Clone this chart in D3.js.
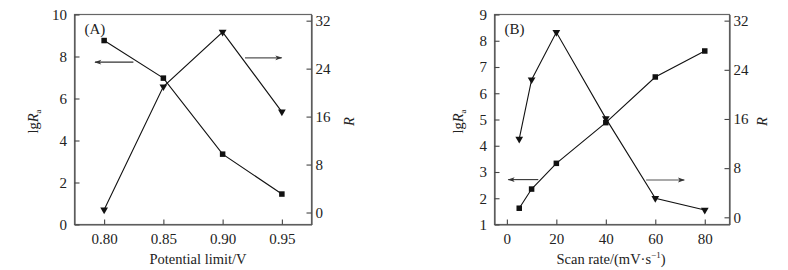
<!DOCTYPE html>
<html>
<head>
<meta charset="utf-8">
<script src="https://cdn.jsdelivr.net/npm/d3@7/dist/d3.min.js"></script>
<style>
  html, body { margin: 0; padding: 0; background: #fff; }
  svg text { font-family: "Liberation Serif", "Times New Roman", "DejaVu Serif", serif; fill: #222; }
</style>
</head>
<body>
<svg id="chart" width="788" height="270"></svg>
<script>
// ---- Panel A data ----
const potentialLimit = [0.80, 0.85, 0.90, 0.95];
const lgRaA = [8.76, 6.97, 3.35, 1.45];
const RA = [0.45, 21.0, 30.1, 16.8];
const xTicksA = [0.80, 0.85, 0.90, 0.95];
const yLeftTicksA = [0, 2, 4, 6, 8, 10];
const yRightTicksA = [0, 8, 16, 24, 32];
// arrows in data units: [x1, x2, y]
const arrowLeftA = [0.8247, 0.7923, 7.73];
const arrowRightA = [0.9189, 0.9498, 25.8];

// ---- Panel B data ----
const scanRate = [5, 10, 20, 40, 60, 80];
const lgRaB = [1.62, 2.35, 3.33, 4.88, 6.62, 7.61];
const RB = [12.75, 22.4, 30.1, 16.1, 3.1, 1.2];
const xTicksB = [0, 20, 40, 60, 80];
const yLeftTicksB = [1, 2, 3, 4, 5, 6, 7, 8, 9];
const yRightTicksB = [0, 8, 16, 24, 32];
const arrowLeftB = [12.7, 0.6, 2.71];
const arrowRightB = [56.3, 71.7, 6.07];

const svg = d3.select("#chart");
svg.append("rect").attr("width", 788).attr("height", 270).attr("fill", "#fff");

const defs = svg.append("defs");
defs.append("marker")
  .attr("id", "ah").attr("viewBox", "0 0 10 10")
  .attr("refX", 9).attr("refY", 5)
  .attr("markerWidth", 9).attr("markerHeight", 7)
  .attr("markerUnits", "userSpaceOnUse")
  .attr("orient", "auto")
  .append("path").attr("d", "M0,1.5 L10,5 L0,8.5 L2.5,5 Z").attr("fill", "#333");

const FS = 14.5;
const TFS = 15;

function panel(cfg) {
  const g = svg.append("g");
  const x = d3.scaleLinear().domain(cfg.xDomain).range([cfg.x0, cfg.x1]);
  const yL = d3.scaleLinear().domain(cfg.yLDomain).range([cfg.y1, cfg.y0]);
  const yR = d3.scaleLinear().domain(cfg.yRDomain).range([cfg.y1, cfg.y0]);

  // frame
  g.append("rect")
    .attr("x", cfg.x0).attr("y", cfg.y0)
    .attr("width", cfg.x1 - cfg.x0).attr("height", cfg.y1 - cfg.y0)
    .attr("fill", "none").attr("stroke", "#666").attr("stroke-width", 1.2);

  const axL = g.append("g").attr("transform", `translate(${cfg.x0},0)`)
    .call(d3.axisLeft(yL).tickValues(cfg.yLTicks).tickFormat(d3.format("d"))
      .tickSizeInner(-5).tickSizeOuter(0).tickPadding(7.5));
  const axR = g.append("g").attr("transform", `translate(${cfg.x1},0)`)
    .call(d3.axisRight(yR).tickValues(cfg.yRTicks).tickFormat(d3.format("d"))
      .tickSizeInner(-5).tickSizeOuter(0).tickPadding(4));
  const axB = g.append("g").attr("transform", `translate(0,${cfg.y1})`)
    .call(d3.axisBottom(x).tickValues(cfg.xTicks).tickFormat(cfg.xFormat)
      .tickSizeInner(-5).tickSizeOuter(0).tickPadding(8.5));
  [axL, axR, axB].forEach(a => {
    a.attr("font-family", null);
    a.select(".domain").attr("stroke", "#555").attr("stroke-width", 1.2);
    a.selectAll(".tick line").attr("stroke", "#444").attr("stroke-width", 1.1);
    a.selectAll(".tick text").attr("font-size", TFS).attr("fill", "#222")
      .attr("font-family", '"Liberation Serif", "Times New Roman", serif');
  });

  // lines
  const lineL = d3.line().x((d, i) => x(cfg.xs[i])).y(d => yL(d));
  const lineR = d3.line().x((d, i) => x(cfg.xs[i])).y(d => yR(d));
  g.append("path").attr("d", lineL(cfg.left)).attr("fill", "none")
    .attr("stroke", "#111").attr("stroke-width", 1.1);
  g.append("path").attr("d", lineR(cfg.right)).attr("fill", "none")
    .attr("stroke", "#111").attr("stroke-width", 1.1);

  // markers
  const sq = 5.5;
  g.selectAll(".sq").data(cfg.left).join("rect")
    .attr("x", (d, i) => x(cfg.xs[i]) - sq / 2)
    .attr("y", d => yL(d) - sq / 2)
    .attr("width", sq).attr("height", sq).attr("fill", "#111");
  const tri = d3.symbol().type(d3.symbolTriangle).size(26);
  g.selectAll(".tri").data(cfg.right).join("path")
    .attr("d", tri)
    .attr("transform", (d, i) => `translate(${x(cfg.xs[i])},${yR(d)}) rotate(180)`)
    .attr("fill", "#111");

  // arrows
  g.append("line")
    .attr("x1", x(cfg.arrowL[0])).attr("x2", x(cfg.arrowL[1]))
    .attr("y1", yL(cfg.arrowL[2])).attr("y2", yL(cfg.arrowL[2]))
    .attr("stroke", "#333").attr("stroke-width", 1.1).attr("marker-end", "url(#ah)");
  g.append("line")
    .attr("x1", x(cfg.arrowR[0])).attr("x2", x(cfg.arrowR[1]))
    .attr("y1", yR(cfg.arrowR[2])).attr("y2", yR(cfg.arrowR[2]))
    .attr("stroke", "#555").attr("stroke-width", 1.1).attr("marker-end", "url(#ah)");

  // panel letter
  g.append("text").attr("x", cfg.x0 + 10).attr("y", cfg.y0 + 19.5)
    .attr("font-size", TFS).text(cfg.letter);

  // left y label lgRa
  const yl = g.append("text")
    .attr("transform", `translate(${cfg.ylX},${(cfg.y0 + cfg.y1) / 2 + 2}) rotate(-90)`)
    .attr("text-anchor", "middle").attr("font-size", FS);
  yl.append("tspan").text("lg");
  yl.append("tspan").attr("font-style", "italic").text("R");
  yl.append("tspan").attr("font-size", 9).attr("dy", 2.5).text("a");

  // right y label R
  g.append("text")
    .attr("transform", `translate(${cfg.yrX},${(cfg.y0 + cfg.y1) / 2 + 2}) rotate(-90)`)
    .attr("text-anchor", "middle").attr("font-size", FS).attr("font-style", "italic").text("R");

  // x label
  const xl = g.append("text").attr("x", cfg.xlX).attr("y", 263.5)
    .attr("text-anchor", "middle").attr("font-size", FS);
  cfg.xLabel(xl);
}

panel({
  x0: 74.5, x1: 311.5, y0: 14.5, y1: 224.5,
  xDomain: [0.775, 0.975], yLDomain: [0, 10], yRDomain: [-2.0, 33.03],
  xTicks: xTicksA, yLTicks: yLeftTicksA, yRTicks: yRightTicksA,
  xFormat: d3.format(".2f"),
  xs: potentialLimit, left: lgRaA, right: RA,
  arrowL: arrowLeftA, arrowR: arrowRightA,
  letter: "(A)", ylX: 38, yrX: 354, xlX: 198,
  xLabel: t => t.text("Potential limit/V")
});

panel({
  x0: 494.5, x1: 729.5, y0: 14.5, y1: 224.5,
  xDomain: [-5, 90], yLDomain: [1, 9], yRDomain: [-1.17, 33.0],
  xTicks: xTicksB, yLTicks: yLeftTicksB, yRTicks: yRightTicksB,
  xFormat: d3.format("d"),
  xs: scanRate, left: lgRaB, right: RB,
  arrowL: arrowLeftB, arrowR: arrowRightB,
  letter: "(B)", ylX: 463, yrX: 767, xlX: 611,
  xLabel: t => {
    t.append("tspan").text("Scan rate/(mV·s");
    t.append("tspan").attr("font-size", 9).attr("dy", -6).text("−1");
    t.append("tspan").attr("dy", 6).text(")");
  }
});
</script>
</body>
</html>
